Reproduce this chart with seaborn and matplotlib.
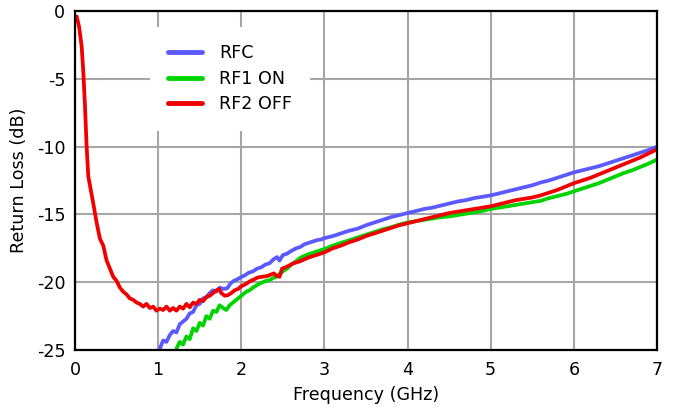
import numpy as np
import pandas as pd
import matplotlib
matplotlib.use("Agg")
import matplotlib.pyplot as plt
import seaborn as sns

# ---------------- data ----------------
rfc_f = [1.02, 1.06, 1.10, 1.14, 1.18, 1.22, 1.26, 1.30, 1.34, 1.38, 1.42, 1.46, 1.50,
         1.54, 1.58, 1.62, 1.66, 1.70, 1.74, 1.78, 1.83, 1.87, 1.91, 1.95, 1.99, 2.04,
         2.09, 2.14, 2.19, 2.24, 2.29, 2.34, 2.39, 2.43, 2.46, 2.50, 2.55, 2.60, 2.66,
         2.71, 2.76, 2.81, 2.86, 2.91, 2.96, 3.00, 3.1, 3.2, 3.3, 3.4, 3.5, 3.6, 3.7,
         3.8, 3.9, 4.0, 4.1, 4.2, 4.3, 4.4, 4.5, 4.6, 4.7, 4.8, 4.9, 5.0, 5.1, 5.2, 5.3,
         5.4, 5.5, 5.6, 5.7, 5.8, 5.9, 6.0, 6.1, 6.2, 6.3, 6.4, 6.5, 6.6, 6.7, 6.8, 6.9, 7.0]
rfc_db = [-24.9, -24.3, -24.4, -23.9, -23.6, -23.7, -23.1, -22.9, -22.7, -22.3, -22.2, -21.7, -21.6,
          -21.2, -21.1, -20.8, -20.6, -20.7, -20.4, -20.5, -20.45, -20.1, -19.9, -19.8, -19.65, -19.5,
          -19.3, -19.2, -19.0, -18.9, -18.7, -18.6, -18.3, -18.15, -18.4, -18.0, -17.9, -17.7, -17.5,
          -17.4, -17.2, -17.1, -17.0, -16.9, -16.85, -16.75, -16.6, -16.4, -16.2, -16.05, -15.8, -15.6, -15.4,
          -15.2, -15.05, -14.9, -14.75, -14.6, -14.5, -14.35, -14.2, -14.05, -13.95, -13.8, -13.7, -13.6, -13.45, -13.3, -13.15,
          -13.0, -12.85, -12.65, -12.5, -12.3, -12.1, -11.9, -11.75, -11.6, -11.45, -11.25, -11.05, -10.85, -10.65, -10.45, -10.25, -10.0]

rf1_f = [1.22, 1.26, 1.30, 1.34, 1.38, 1.42, 1.46, 1.50, 1.54, 1.58, 1.62, 1.66, 1.70,
         1.74, 1.78, 1.82, 1.86, 1.90, 1.94, 1.98, 2.02, 2.06, 2.10, 2.14, 2.18, 2.22,
         2.26, 2.30, 2.34, 2.38, 2.42, 2.46, 2.50, 2.55, 2.60, 2.65, 2.71, 2.8, 2.9, 3.0,
         3.1, 3.2, 3.3, 3.4, 3.5, 3.6, 3.7, 3.8, 3.9, 4.0, 4.1, 4.2, 4.3, 4.4, 4.5, 4.6,
         4.7, 4.8, 4.9, 5.0, 5.1, 5.2, 5.3, 5.4, 5.5, 5.6, 5.7, 5.8, 5.9, 6.0, 6.1, 6.2,
         6.3, 6.4, 6.5, 6.6, 6.7, 6.8, 6.9, 7.0]
rf1_db = [-24.9, -24.4, -24.6, -24.0, -24.2, -23.4, -23.6, -23.0, -23.2, -22.5, -22.7, -22.1, -22.2,
          -21.7, -21.9, -22.05, -21.7, -21.5, -21.3, -21.1, -20.9, -20.7, -20.6, -20.4, -20.25, -20.1,
          -20.0, -19.9, -19.85, -19.7, -19.6, -19.4, -19.2, -19.0, -18.7, -18.5, -18.2, -17.95, -17.75, -17.55,
          -17.3, -17.1, -16.9, -16.7, -16.5, -16.3, -16.1, -15.95, -15.75, -15.6, -15.5, -15.4, -15.3, -15.2, -15.15, -15.05,
          -14.95, -14.85, -14.75, -14.6, -14.5, -14.4, -14.3, -14.2, -14.1, -14.0, -13.8, -13.65, -13.5, -13.3, -13.1, -12.9,
          -12.7, -12.45, -12.2, -11.95, -11.75, -11.5, -11.25, -10.95]

rf2_f = [0.02, 0.05, 0.08, 0.10, 0.12, 0.14, 0.16, 0.19, 0.22, 0.26, 0.30, 0.34, 0.38,
         0.42, 0.46, 0.50, 0.54, 0.58, 0.62, 0.66, 0.70, 0.74, 0.78, 0.82, 0.86, 0.90,
         0.94, 0.98, 1.02, 1.06, 1.10, 1.14, 1.18, 1.22, 1.26, 1.30, 1.34, 1.38, 1.42,
         1.46, 1.50, 1.54, 1.58, 1.62, 1.66, 1.70, 1.73, 1.76, 1.80, 1.84, 1.88, 1.92,
         1.96, 2.00, 2.05, 2.10, 2.15, 2.20, 2.25, 2.31, 2.35, 2.39, 2.43, 2.46, 2.49,
         2.55, 2.63, 2.71, 2.80, 2.90, 3.00, 3.1, 3.2, 3.3, 3.4, 3.5, 3.6, 3.7, 3.8, 3.9,
         4.0, 4.1, 4.2, 4.3, 4.4, 4.5, 4.6, 4.7, 4.8, 4.9, 5.0, 5.1, 5.2, 5.3, 5.4, 5.5,
         5.6, 5.7, 5.8, 5.9, 6.0, 6.1, 6.2, 6.3, 6.4, 6.5, 6.6, 6.7, 6.8, 6.9, 7.0]
rf2_db = [-0.4, -1.2, -2.6, -4.5, -7.0, -10.0, -12.2, -13.2, -14.2, -15.6, -16.8, -17.3, -18.4,
          -19.0, -19.6, -19.9, -20.4, -20.7, -20.9, -21.2, -21.3, -21.5, -21.6, -21.8, -21.6, -21.9,
          -21.8, -22.1, -21.95, -22.05, -21.8, -22.1, -21.9, -22.1, -21.8, -21.95, -21.6, -21.85, -21.5,
          -21.6, -21.3, -21.4, -21.1, -21.0, -20.8, -20.6, -20.5, -20.8, -21.0, -20.95, -20.8, -20.6,
          -20.5, -20.3, -20.15, -19.95, -19.8, -19.65, -19.6, -19.55, -19.45, -19.35, -19.55, -19.6, -19.0,
          -18.85, -18.6, -18.45, -18.2, -18.0, -17.8, -17.5, -17.3, -17.05, -16.85, -16.6, -16.4, -16.2, -16.0, -15.8,
          -15.65, -15.5, -15.35, -15.2, -15.05, -14.9, -14.8, -14.7, -14.6, -14.5, -14.4, -14.25, -14.1, -13.95, -13.85, -13.75,
          -13.6, -13.4, -13.2, -12.95, -12.7, -12.5, -12.3, -12.05, -11.8, -11.55, -11.3, -11.05, -10.8, -10.5, -10.2]

series_names = ["RFC", "RF1 ON", "RF2 OFF"]
series_colors = ["#5a5aff", "#00d400", "#f00000"]
x_ticks = [0, 1, 2, 3, 4, 5, 6, 7]
y_ticks = [0, -5, -10, -15, -20, -25]

df = pd.concat([
    pd.DataFrame({"Frequency": rfc_f, "RL": rfc_db, "Series": "RFC"}),
    pd.DataFrame({"Frequency": rf1_f, "RL": rf1_db, "Series": "RF1 ON"}),
    pd.DataFrame({"Frequency": rf2_f, "RL": rf2_db, "Series": "RF2 OFF"}),
], ignore_index=True)

# ---------------- style ----------------
sns.set_style("whitegrid")
plt.rcParams["font.family"] = ["DejaVu Sans"]
plt.rcParams["text.color"] = "black"
plt.rcParams["axes.labelcolor"] = "black"
plt.rcParams["xtick.color"] = "black"
plt.rcParams["ytick.color"] = "black"
FS = 12.6

fig = plt.figure(figsize=(6.73, 4.09), dpi=100)
ax = fig.add_axes([75 / 673, 1 - 350 / 409, 582 / 673, 339 / 409])

sns.lineplot(data=df, x="Frequency", y="RL", hue="Series", hue_order=series_names,
             palette=series_colors, linewidth=2.7, ax=ax, sort=False, estimator=None)

ax.set_xlim(0, 7)
ax.set_ylim(-25, 0)
ax.set_xticks(x_ticks)
ax.set_yticks(y_ticks)
ax.set_xticklabels([str(t) for t in x_ticks], fontsize=FS, color="black")
ax.set_yticklabels([str(t) for t in y_ticks], fontsize=FS, color="black")
ax.tick_params(axis="both", length=0)
ax.tick_params(axis="x", pad=8)
ax.tick_params(axis="y", pad=7)
ax.set_xlabel("Frequency (GHz)", fontsize=FS, labelpad=5, color="black")
ax.set_ylabel("Return Loss (dB)", fontsize=FS, labelpad=6, color="black")

ax.grid(True, color="#a6a6a6", linewidth=1.5)
for s in ax.spines.values():
    s.set_color("black")
    s.set_linewidth(1.6)
    s.set_visible(True)

leg = ax.legend(loc="upper left", bbox_to_anchor=((150 - 75) / 582, 1 - (27 - 11) / 339),
                fontsize=FS, frameon=True, fancybox=False, framealpha=1,
                handlelength=1.95, handletextpad=1.0, borderpad=1.0, labelspacing=0.42,
                borderaxespad=0)
leg.get_frame().set_edgecolor("none")
leg.get_frame().set_facecolor("white")
for t in leg.get_texts():
    t.set_color("black")
for h in leg.get_lines():
    h.set_linewidth(3.5)

fig.savefig("out.png", dpi=100)
